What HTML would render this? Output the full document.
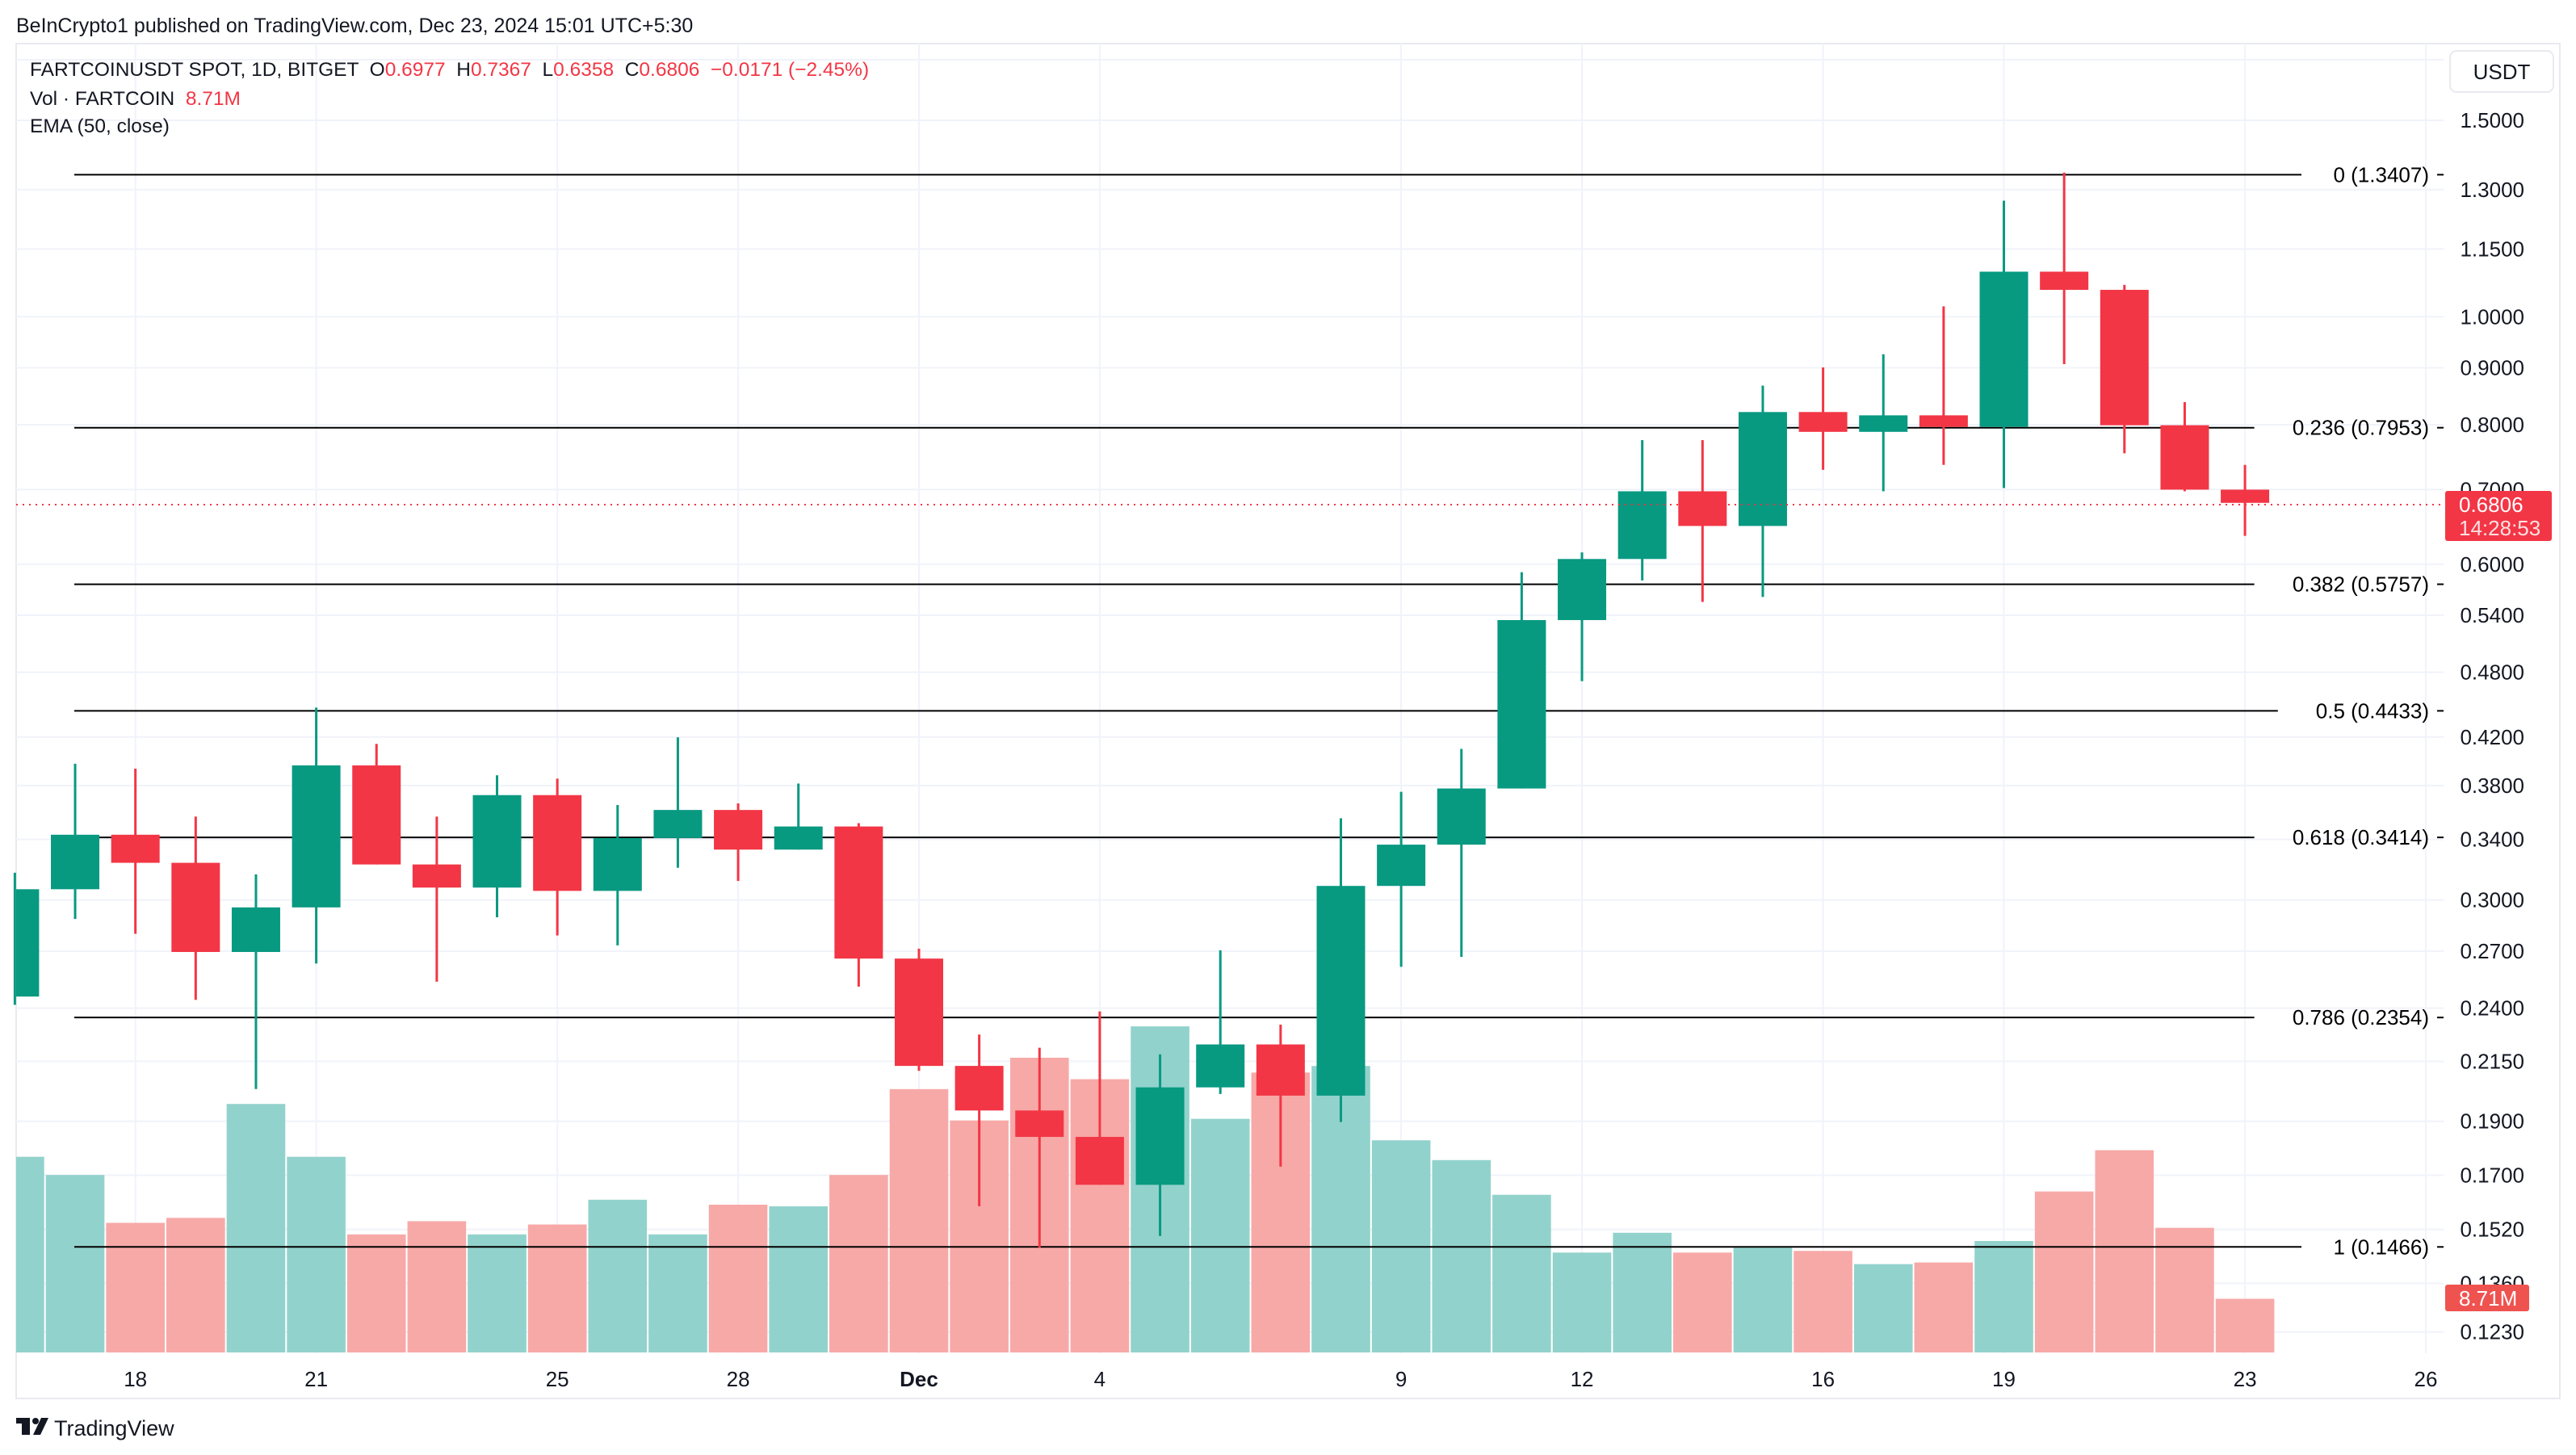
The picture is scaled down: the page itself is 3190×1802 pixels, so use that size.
<!DOCTYPE html>
<html><head><meta charset="utf-8"><style>
html,body{margin:0;padding:0;background:#fff;}
svg{display:block;font-family:"Liberation Sans",sans-serif;}
</style></head><body>
<svg id="s" width="3190" height="1802" viewBox="0 0 3190 1802" xmlns="http://www.w3.org/2000/svg">
<rect width="3190" height="1802" fill="#fff"/>
<text x="20" y="40" font-size="25" fill="#131722">BeInCrypto1 published on TradingView.com, Dec 23, 2024 15:01 UTC+5:30</text>
<rect x="20" y="54" width="3150" height="1678" fill="none" stroke="#e8eaef" stroke-width="2"/>
<g id="grid"></g>
<g id="vol"></g>
<g id="fib"></g>
<g id="candles"></g>
<line x1="20" y1="625" x2="3026" y2="625" stroke="#f23645" stroke-width="2" stroke-dasharray="2,6"/>
<g id="axis"></g>
<text x="37" y="94" font-size="24.5" fill="#131722" xml:space="preserve">FARTCOINUSDT SPOT, 1D, BITGET  O<tspan fill="#f23645">0.6977</tspan>  H<tspan fill="#f23645">0.7367</tspan>  L<tspan fill="#f23645">0.6358</tspan>  C<tspan fill="#f23645">0.6806</tspan>  <tspan fill="#f23645">−0.0171 (−2.45%)</tspan></text>
<text x="37" y="130" font-size="24.5" fill="#131722" xml:space="preserve">Vol · FARTCOIN  <tspan fill="#f23645">8.71M</tspan></text>
<text x="37" y="164" font-size="24.5" fill="#131722">EMA (50, close)</text>
<rect x="3034" y="63" width="128" height="51" rx="8" fill="#fff" stroke="#e8eaef" stroke-width="2"/>
<text x="3098" y="98" font-size="26" fill="#131722" text-anchor="middle">USDT</text>
<rect x="3028" y="608" width="132" height="62" rx="3" fill="#f23645"/>
<text x="3045" y="634" font-size="26" fill="#fff">0.6806</text>
<text x="3045" y="663" font-size="26" fill="#fde0e2">14:28:53</text>
<rect x="3028" y="1591" width="104" height="33" rx="3" fill="#ef5350"/>
<text x="3045" y="1617" font-size="26" fill="#fff">8.71M</text>
<g transform="translate(20,1756)"><rect x="0" y="0" width="17" height="7" fill="#131722"/><rect x="7" y="0" width="10" height="21" fill="#131722"/><circle cx="24" cy="4" r="4" fill="#131722"/><polygon points="31,0 40,0 30,21 21,21" fill="#131722"/></g>
<text x="67" y="1778" font-size="27" fill="#131722">TradingView</text>
</svg>
<script>
const NS="http://www.w3.org/2000/svg";
function el(p,t,a,txt){const e=document.createElementNS(NS,t);for(const k in a)e.setAttribute(k,a[k]);if(txt!==undefined)e.textContent=txt;document.getElementById(p).appendChild(e);return e;}
const Y=p=>149+600*(Math.log(1.5)-Math.log(p));
const X=d=>1138+74.64*d;
const ticks=[1.5,1.3,1.15,1.0,0.9,0.8,0.7,0.6,0.54,0.48,0.42,0.38,0.34,0.30,0.27,0.24,0.215,0.19,0.17,0.152,0.136,0.123];
el("grid","line",{x1:20,y1:74,x2:3026,y2:74,stroke:"#f0f3fa","stroke-width":2});
ticks.forEach(t=>{const y=Y(t);el("grid","line",{x1:20,y1:y,x2:3026,y2:y,stroke:"#f0f3fa","stroke-width":2});
el("axis","text",{x:3126,y:y+9,"font-size":26,fill:"#131722","text-anchor":"end"},t.toFixed(4));});
const dates=[[-13,"18"],[-10,"21"],[-6,"25"],[-3,"28"],[0,"Dec"],[3,"4"],[8,"9"],[11,"12"],[15,"16"],[18,"19"],[22,"23"],[25,"26"]];
dates.forEach(([d,l])=>{const x=X(d);el("grid","line",{x1:x,y1:54,x2:x,y2:1676,stroke:"#f0f3fa","stroke-width":2});
el("axis","text",{x:x,y:1717,"font-size":26,fill:"#131722","text-anchor":"middle","font-weight":l=="Dec"?"bold":"normal"},l);});
const C=[[-15,540,605,530,610,1],[-14,507,540,464,558,1],[-13,507,524,467,567,0],[-12,524,578,496,607,0],[-11,551,578,531,661,1],[-10,465,551,430,585,1],
[-9,465,525,452,525,0],[-8,525,539,496,596,0],[-7,483,539,471,557,1],[-6,483,541,473,568,0],[-5,509,541,489,574,1],[-4,492,509,448,527,1],
[-3,492,516,488,535,0],[-2,502,516,476,516,1],[-1,502,582,500,599,0],[0,582,647,576,650,0],[1,647,674,628,732,0],[2,674,690,636,757,0],
[3,690,719,614,719,0],[4,660,719,640,750,1],[5,634,660,577,664,1],[6,634,665,622,708,0],[7,538,665,497,681,1],[8,513,538,481,587,1],
[9,479,513,455,581,1],[10,377,479,348,479,1],[11,340,377,336,414,1],[12,299,340,268,353,1],[13,299,320,268,366,0],[14,251,320,235,363,1],
[15,251,263,224,286,0],[16,253,263,216,299,1],[17,253,260,187,283,0],[18,166,260,123,297,1],[19,166,177,106,222,0],[20,177,259,174,276,0],
[21,259,298,245,299,0],[22,298,306,283,326,0]];
const V=[[-15,704,1],[-14,715,1],[-13,744,0],[-12,741,0],[-11,672,1],[-10,704,1],[-9,751,0],[-8,743,0],[-7,751,1],[-6,745,0],[-5,730,1],[-4,751,1],
[-3,733,0],[-2,734,1],[-1,715,0],[0,663,0],[1,682,0],[2,644,0],[3,657,0],[4,625,1],[5,681,1],[6,653,0],[7,649,1],[8,694,1],[9,706,1],[10,727,1],
[11,762,1],[12,750,1],[13,762,0],[14,759,1],[15,761,0],[16,769,1],[17,768,0],[18,755,1],[19,725,0],[20,700,0],[21,747,0],[22,790,0]];
const k=2.045, off=-3;
V.forEach(([d,t,g])=>{let x0=Math.max(20,X(d)-36.3),x1=X(d)+36.3;const y=t*k-7;
el("vol","rect",{x:x0,y:y,width:x1-x0,height:1675-y,fill:g?"#92d2cc":"#f7a9a7"});});
C.forEach(([d,bt,bb,wt,wb,g])=>{const x=X(d),col=g?"#089981":"#f23645";
el("candles","rect",{x:x-1.5,y:wt*k+off,width:3,height:(wb-wt)*k,fill:col});
let x0=Math.max(20,x-30);el("candles","rect",{x:x0,y:bt*k+off,width:x+30-x0,height:Math.max(2,(bb-bt)*k),fill:col});});
const F=[["0","1.3407"],["0.236","0.7953"],["0.382","0.5757"],["0.5","0.4433"],["0.618","0.3414"],["0.786","0.2354"],["1","0.1466"]];
F.forEach(([l,p])=>{const y=Y(parseFloat(p));const txt=l+" ("+p+")";const w=txt.length*14.6;
el("fib","line",{x1:92,y1:y,x2:3008-w-12,y2:y,stroke:"#000","stroke-width":2});
el("fib","line",{x1:3018,y1:y,x2:3026,y2:y,stroke:"#000","stroke-width":2});
el("fib","text",{x:3008,y:y+9,"font-size":26,fill:"#000","text-anchor":"end"},txt);});
</script>
</body></html>
